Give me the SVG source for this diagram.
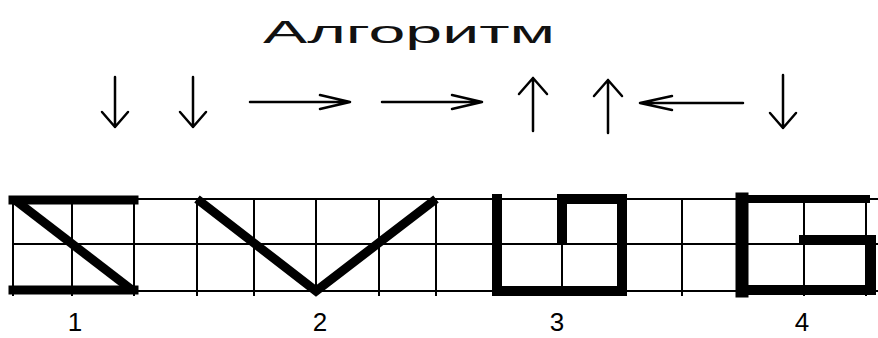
<svg xmlns="http://www.w3.org/2000/svg" width="878" height="338" viewBox="0 0 878 338">
<style>
.grid{stroke:#000;stroke-width:2;fill:none}
.fig{stroke:#000;stroke-width:9;fill:none;stroke-linecap:square;stroke-linejoin:miter}
.arr{stroke:#000;stroke-width:2.5;fill:none;stroke-linecap:round;stroke-linejoin:round}
.title{font-family:"Liberation Sans",Arial,sans-serif;font-size:31px;fill:#111}
.num{font-family:"Liberation Sans",Arial,sans-serif;font-size:26px;fill:#000;text-anchor:middle}
</style>
<rect width="878" height="338" fill="#fff"/>
<g id="title">
<text class="title" x="263" y="43" textLength="292" lengthAdjust="spacingAndGlyphs">Алгоритм</text>
</g>
<g id="arrows">
<path class="arr" d="M115,77 V127 M102,112 L115,127 L128,112"/>
<path class="arr" d="M193,77 V127 M180,112 L193,127 L206,112"/>
<path class="arr" d="M250,102 H350 M320,95 L350,102 L320,109"/>
<path class="arr" d="M382,102 H482 M452,95 L482,102 L452,109"/>
<path class="arr" d="M533,131 V78 M519,94 L533,78 L547,94"/>
<path class="arr" d="M608,133 V80 M594,96 L608,80 L622,96"/>
<path class="arr" d="M743,103 H640 M672,96 L640,103 L672,110"/>
<path class="arr" d="M783,75 V128 M770,113 L783,128 L796,113"/>
</g>
<g id="grid">
<path class="grid" d="M13,199 H878 M13,244 H878 M13,291 H878"/>
<path class="grid" d="M13,198 V296 M72,198 V296 M134,198 V296 M197,198 V296 M254,198 V296 M316,198 V296 M379,198 V296 M436,198 V296 M497,198 V296 M562,198 V296 M622,198 V296 M682,198 V296 M744,198 V296 M804,198 V296 M866,198 V296"/>
</g>
<g id="figure1">
<path class="fig" d="M13,200 H134"/>
<path class="fig" d="M13,290 H134"/>
<path class="fig" style="stroke-linecap:butt" d="M15,200 L132,290"/>
</g>
<g id="figure2">
<path class="fig" style="stroke-linecap:butt" d="M197,199 L316,291 L436,199"/>
</g>
<g id="figure3">
<path class="fig" style="stroke-width:10;stroke-linecap:butt" d="M497,199 V291 H622 V199 H562 V244"/>
<path class="fig" style="stroke-width:10;stroke-linecap:butt" d="M497,194 V204"/>
</g>
<g id="figure4">
<path class="fig" style="stroke-width:8" d="M742,199 H866"/>
<path class="fig" style="stroke-width:10" d="M804,240 H871 V290 H742"/>
<path class="fig" style="stroke-width:13" d="M742,199 V291"/>
</g>
<g id="labels">
<text class="num" x="75" y="331">1</text>
<text class="num" x="320" y="331">2</text>
<text class="num" x="557" y="331">3</text>
<text class="num" x="802" y="331">4</text>
</g>
</svg>
